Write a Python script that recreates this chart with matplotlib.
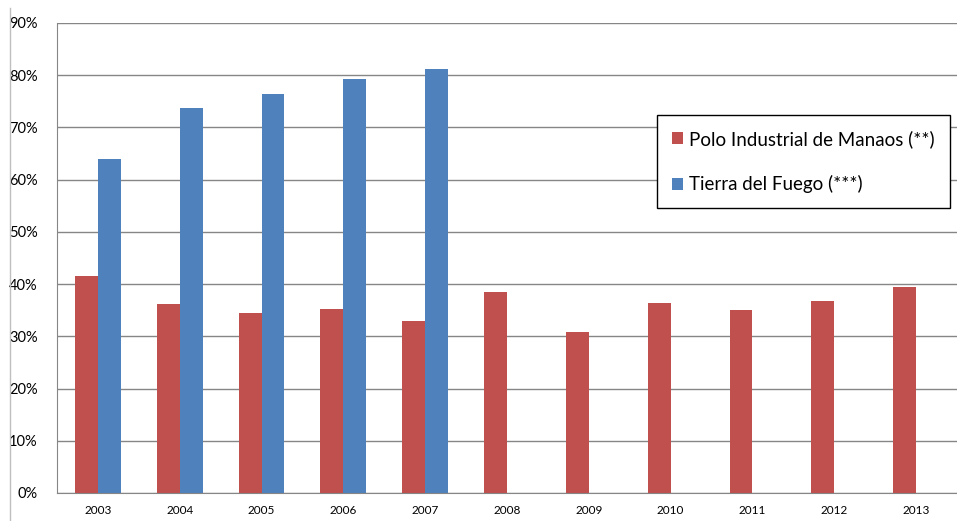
import numpy as np
import matplotlib
matplotlib.use("Agg")
import matplotlib.pyplot as plt
from matplotlib.lines import Line2D
from matplotlib.ticker import FuncFormatter

# datos
years = ["2003", "2004", "2005", "2006", "2007", "2008",
         "2009", "2010", "2011", "2012", "2013"]
manaos = [41.6, 36.1, 34.4, 35.2, 33.0, 38.4, 30.9, 36.3, 35.1, 36.7, 39.4]
fuego = [64.0, 73.7, 76.4, 79.3, 81.1]

red = "#C0504D"
blue = "#4F81BD"
grid_c = "#868686"

plt.rcParams["font.family"] = ["Lato", "DejaVu Sans"]

fig = plt.figure(figsize=(9.57, 5.21), dpi=100)
ax = fig.add_axes([57 / 957, 1 - 493 / 521, 1 - 57 / 957, (493 - 23) / 521])

x = np.arange(len(years))
w = 0.28
ax.bar(x - w / 2, manaos, w, color=red, label="Polo Industrial de Manaos (**)")
ax.bar(x[:len(fuego)] + w / 2, fuego, w, color=blue, label="Tierra del Fuego (***)")

ax.set_xlim(-0.5, len(years) - 0.5)
ax.set_ylim(0, 90)
ax.set_yticks(np.arange(0, 91, 10))
ax.yaxis.set_major_formatter(FuncFormatter(lambda v, p: f"{v:.0f}%"))
ax.set_xticks(x)
ax.set_xticklabels(years)
ax.tick_params(axis="y", length=0, labelsize=10.5, pad=14, colors="black")
ax.tick_params(axis="x", length=0, labelsize=8.5, pad=9, colors="black")

ax.grid(axis="y", color=grid_c, linewidth=1)
ax.set_axisbelow(True)
for s in ["top", "right"]:
    ax.spines[s].set_visible(False)
ax.spines["left"].set_color(grid_c)
ax.spines["bottom"].set_color(grid_c)

leg = ax.legend(loc="upper left", bbox_to_anchor=(657 / 957, 1 - 115 / 521),
                bbox_transform=fig.transFigure, fontsize=13.5, frameon=True,
                fancybox=False, edgecolor="black", framealpha=1,
                handlelength=0.6, handleheight=0.6, handletextpad=0.3,
                labelspacing=1.45, borderpad=0.8, borderaxespad=0)
leg.get_frame().set_linewidth(1)

# borde izquierdo del grafico
fig.add_artist(Line2D([10 / 957, 10 / 957], [0, 1 - 8 / 521],
                      transform=fig.transFigure, color="#BFBFBF", linewidth=1))

fig.savefig("out.png", dpi=100)
